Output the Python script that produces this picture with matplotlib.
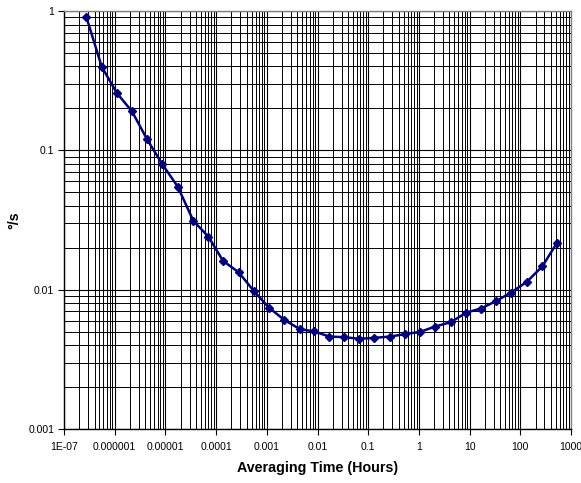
import matplotlib
matplotlib.use("Agg")
import matplotlib.pyplot as plt
from matplotlib.ticker import LogLocator, FixedLocator, FixedFormatter, NullFormatter

# Data (averaging time in hours, deviation in deg/s)
tau_hours = [2.75e-7, 5.55e-7, 1.10e-6, 2.20e-6, 4.35e-6, 8.7e-6, 1.75e-5, 3.56e-5,
             7.05e-5, 1.37e-4, 2.8e-4, 5.6e-4, 1.10e-3, 2.2e-3, 4.5e-3, 8.7e-3,
             0.017, 0.0336, 0.0673, 0.133, 0.272, 0.537, 1.06, 2.10,
             4.28, 8.6, 16.7, 33.6, 65.5, 135, 272, 530]
deviation = [0.91, 0.398, 0.258, 0.19, 0.12, 0.0794, 0.0549, 0.0312,
             0.024, 0.0161, 0.0133, 0.00975, 0.00744, 0.00607, 0.00521, 0.00501,
             0.00461, 0.00456, 0.00444, 0.00451, 0.00461, 0.0048, 0.00498, 0.00544,
             0.00585, 0.00685, 0.00732, 0.0083, 0.00953, 0.0114, 0.0147, 0.0217]

x_ticks = [1e-7, 1e-6, 1e-5, 1e-4, 1e-3, 1e-2, 1e-1, 1, 10, 100, 1000]
x_tick_labels = ["1E-07", "0.000001", "0.00001", "0.0001", "0.001", "0.01", "0.1",
                 "1", "10", "100", "1000"]
y_ticks = [0.001, 0.01, 0.1, 1]
y_tick_labels = ["0.001", "0.01", "0.1", "1"]

plt.rcParams['font.family'] = ['Liberation Sans', 'DejaVu Sans']

fig = plt.figure(figsize=(5.81, 4.83), dpi=100)
ax = fig.add_axes([64/581, 1-429/483, (571-64)/581, (429-11)/483])

ax.set_xscale('log')
ax.set_yscale('log')
ax.set_xlim(1e-7, 1000)
ax.set_ylim(0.001, 1)

ax.xaxis.set_major_locator(FixedLocator(x_ticks))
ax.xaxis.set_major_formatter(FixedFormatter(x_tick_labels))
ax.yaxis.set_major_locator(FixedLocator(y_ticks))
ax.yaxis.set_major_formatter(FixedFormatter(y_tick_labels))
ax.xaxis.set_minor_locator(LogLocator(base=10, subs=range(2, 10), numticks=50))
ax.yaxis.set_minor_locator(LogLocator(base=10, subs=range(2, 10), numticks=50))
ax.xaxis.set_minor_formatter(NullFormatter())
ax.yaxis.set_minor_formatter(NullFormatter())

ax.grid(True, which='major', color='black', linewidth=0.8)
ax.grid(True, which='minor', color='black', linewidth=0.7)
ax.set_axisbelow(True)

ax.tick_params(which='major', direction='out', length=4, width=0.8, labelsize=7.5,
               color='black', pad=3)
ax.tick_params(which='minor', length=0)
ax.tick_params(axis='x', pad=5)

for side in ['top', 'right']:
    ax.spines[side].set_color('#808080')
    ax.spines[side].set_linewidth(1.0)
for side in ['left', 'bottom']:
    ax.spines[side].set_color('black')
    ax.spines[side].set_linewidth(1.0)

ax.plot(tau_hours, deviation, color='#000080', linewidth=1.8, marker='D',
        markersize=4.5, markerfacecolor='#000080', markeredgecolor='#000080', zorder=5)

ax.set_xlabel("Averaging Time (Hours)", fontsize=10.3, fontweight='bold', labelpad=7)
ax.set_ylabel("°/s", fontsize=10.3, fontweight='bold')
ax.yaxis.set_label_coords(-0.085, 0.5)

fig.savefig("out.png", dpi=100, facecolor='white')
